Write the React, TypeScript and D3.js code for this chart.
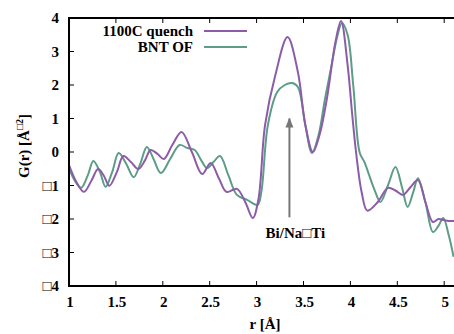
import React from "react";
import * as d3 from "d3";

const quenchR = [1.0, 1.08, 1.16, 1.24, 1.31, 1.37, 1.43, 1.51, 1.58, 1.66, 1.74, 1.81, 1.87, 1.94, 2.01, 2.1, 2.2, 2.31, 2.42, 2.51, 2.6, 2.68, 2.79, 2.88, 2.96, 3.02, 3.09, 3.2, 3.33, 3.44, 3.52, 3.6, 3.67, 3.75, 3.84, 3.9, 3.97, 4.02, 4.06, 4.12, 4.18, 4.29, 4.4, 4.48, 4.56, 4.64, 4.72, 4.8, 4.88, 4.94, 4.99, 5.05, 5.12];
const quenchG = [-0.39, -0.9, -1.19, -0.85, -0.51, -0.7, -1.01, -0.6, -0.12, -0.3, -0.51, -0.25, 0.06, -0.05, -0.21, 0.2, 0.6, 0.0, -0.66, -0.33, -0.8, -1.19, -1.1, -1.5, -1.97, -1.4, 0.8, 2.3, 3.43, 2.39, 0.8, 0.0, 0.5, 1.6, 3.28, 3.91, 2.6, 1.1, 0.0, -1.2, -1.75, -1.5, -1.07, -1.15, -1.28, -1.05, -0.84, -1.5, -2.09, -2.0, -2.03, -2.06, -2.06];

const bntR = [1.0, 1.06, 1.13, 1.2, 1.26, 1.33, 1.39, 1.46, 1.53, 1.61, 1.69, 1.76, 1.83, 1.9, 1.98, 2.08, 2.18, 2.26, 2.34, 2.41, 2.47, 2.54, 2.61, 2.7, 2.79, 2.9, 3.01, 3.05, 3.12, 3.22, 3.3, 3.38, 3.44, 3.52, 3.59, 3.66, 3.73, 3.8, 3.86, 3.91, 3.97, 4.03, 4.1, 4.15, 4.2, 4.26, 4.32, 4.4, 4.48, 4.55, 4.61, 4.67, 4.72, 4.8, 4.88, 4.94, 4.99, 5.05, 5.1];
const bntG = [-0.48, -0.85, -1.07, -0.7, -0.27, -0.6, -1.04, -0.6, -0.03, -0.35, -0.75, -0.35, 0.15, -0.2, -0.63, -0.2, 0.21, 0.12, 0.06, -0.25, -0.48, -0.3, -0.12, -0.7, -1.28, -1.43, -1.58, -1.2, 0.8, 1.79, 2.0, 2.06, 1.94, 0.8, -0.03, 0.5, 1.6, 2.6, 3.45, 3.85, 3.5, 2.0, -0.03, -0.3, -0.69, -1.15, -1.49, -1.0, -0.45, -1.05, -1.64, -1.2, -0.78, -1.5, -2.39, -2.2, -1.97, -2.5, -3.13];

const xTicks = [1, 1.5, 2, 2.5, 3, 3.5, 4, 4.5, 5];
const yTicks = [-4, -3, -2, -1, 0, 1, 2, 3, 4];
const seriesNames = ["1100C quench", "BNT OF"];
const seriesColors = ["#8d5ca8", "#5c9c88"];
const arrowLabel = "Bi/Na\u25A1Ti";

const W = 454;
const H = 334;
const left = 69;
const top = 18;
const bottom = 286;
const xScale = d3.scaleLinear().domain([1, 5.2]).range([left, left + 4.2 * 93.8]);
const yScale = d3.scaleLinear().domain([-4, 4]).range([bottom, top]);

const fmtY = (v: number) => (v < 0 ? "\u25A1" + Math.abs(v) : String(v));

export default function App() {
  const line = d3
    .line<[number, number]>()
    .x((d) => xScale(d[0]))
    .y((d) => yScale(d[1]))
    .curve(d3.curveCatmullRom.alpha(0.5));
  const q = quenchR.map((r, i) => [r, quenchG[i]] as [number, number]);
  const b = bntR.map((r, i) => [r, bntG[i]] as [number, number]);
  const right = xScale(5.2);
  const ts: React.CSSProperties = { fontFamily: "'Liberation Serif', serif", fontWeight: "bold", fontSize: "15px" };
  const arrowX = xScale(3.35);
  return (
    <svg width={W} height={H} style={{ position: "absolute", left: 0, top: 0 }}>
      <rect width={W} height={H} fill="#fff" />
      <defs>
        <clipPath id="clip">
          <rect x={left} y={top} width={right - left} height={bottom - top} />
        </clipPath>
        <marker id="ah" viewBox="0 0 10 10" refX="9" refY="5" markerWidth="5" markerHeight="6" orient="auto">
          <path d="M0,1 L10,5 L0,9 Z" fill="#777" />
        </marker>
      </defs>
      <g clipPath="url(#clip)">
        <path d={line(b) || ""} fill="none" stroke={seriesColors[1]} strokeWidth={2} />
        <path d={line(q) || ""} fill="none" stroke={seriesColors[0]} strokeWidth={2} />
      </g>
      <line x1={arrowX} x2={arrowX} y1={yScale(-1.95)} y2={yScale(1.0)} stroke="#777" strokeWidth={2} markerEnd="url(#ah)" />
      <text x={arrowX + 6} y={238} textAnchor="middle" style={ts}>{arrowLabel}</text>
      <text x={193} y={36} textAnchor="end" style={ts}>{seriesNames[0]}</text>
      <line x1={204} x2={247} y1={31} y2={31} stroke={seriesColors[0]} strokeWidth={2} />
      <text x={193} y={52} textAnchor="end" style={ts}>{seriesNames[1]}</text>
      <line x1={204} x2={247} y1={47} y2={47} stroke={seriesColors[1]} strokeWidth={2} />
      <line x1={left} x2={left} y1={top} y2={bottom} stroke="#000" strokeWidth={2} />
      <line x1={left - 1} x2={right} y1={bottom} y2={bottom} stroke="#000" strokeWidth={2} />
      <line x1={left - 1} x2={right} y1={top} y2={top} stroke="#000" strokeWidth={2} />
      {yTicks.map((t) => (
        <g key={"y" + t}>
          <line x1={left} x2={left + 5} y1={yScale(t)} y2={yScale(t)} stroke="#000" strokeWidth={1} />
          <text x={59} y={yScale(t) + 5} textAnchor="end" style={ts}>{fmtY(t)}</text>
        </g>
      ))}
      {xTicks.map((t) => (
        <g key={"x" + t}>
          <line x1={xScale(t)} x2={xScale(t)} y1={bottom} y2={bottom - 5} stroke="#000" strokeWidth={1} />
          <line x1={xScale(t)} x2={xScale(t)} y1={top} y2={top + 5} stroke="#000" strokeWidth={1} />
          <text x={xScale(t) + 1} y={307} textAnchor="middle" style={ts}>{String(t)}</text>
        </g>
      ))}
      <text x={265} y={329} textAnchor="middle" style={ts}>r [Å]</text>
      <text transform={`translate(29,146) rotate(-90)`} textAnchor="middle" style={ts}>
        G(r) [Å<tspan dy={-6} style={{ fontSize: "10px" }}>{"\u25A1"}2</tspan><tspan dy={6}>]</tspan>
      </text>
    </svg>
  );
}
